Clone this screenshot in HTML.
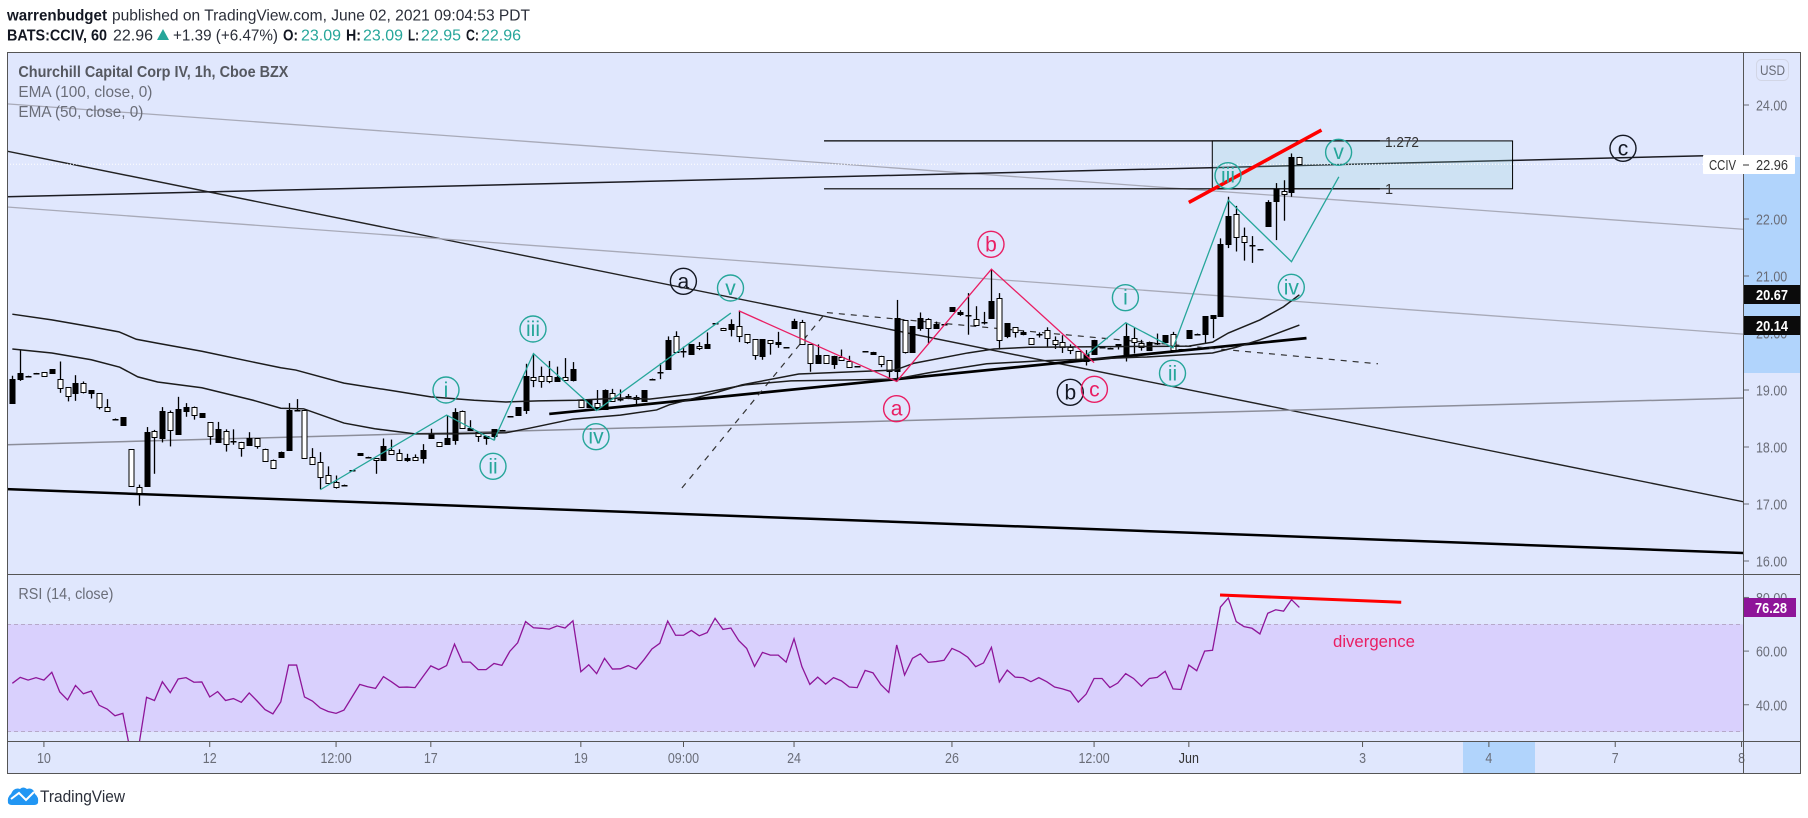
<!DOCTYPE html>
<html lang="en">
<head>
<meta charset="utf-8">
<title>CCIV chart</title>
<style>
html,body{margin:0;padding:0;background:#fff;width:1808px;height:818px;overflow:hidden}
svg{display:block}
text{font-family:"Liberation Sans",sans-serif}
</style>
</head>
<body>
<svg id="chart" width="1808" height="818" viewBox="0 0 1808 818" xmlns="http://www.w3.org/2000/svg">
  <defs>
    <clipPath id="main-clip"><rect x="7" y="52" width="1736" height="522"/></clipPath>
    <clipPath id="rsi-clip"><rect x="7" y="575" width="1736" height="166.5"/></clipPath>
  </defs>

  <g>
    <text x="7" y="20.5" font-size="16" font-weight="700" fill="#131722" textLength="100" lengthAdjust="spacingAndGlyphs">warrenbudget</text>
    <text x="112" y="20.5" font-size="16" fill="#2a2e39" textLength="418" lengthAdjust="spacingAndGlyphs">published on TradingView.com, June 02, 2021 09:04:53 PDT</text>
    <text x="7" y="40.5" font-size="16" font-weight="700" fill="#131722" textLength="100" lengthAdjust="spacingAndGlyphs">BATS:CCIV, 60</text>
    <text x="113" y="40.5" font-size="16" fill="#2a2e39" textLength="40" lengthAdjust="spacingAndGlyphs">22.96</text>
    <polygon points="157,40 163,29 169,40" fill="#26a69a"/>
    <text x="173" y="40.5" font-size="16" fill="#2a2e39" textLength="105" lengthAdjust="spacingAndGlyphs">+1.39 (+6.47%)</text>
    <text x="283" y="40.5" font-size="16" font-weight="700" fill="#131722" textLength="15" lengthAdjust="spacingAndGlyphs">O:</text>
    <text x="301" y="40.5" font-size="16" fill="#26a69a" textLength="40" lengthAdjust="spacingAndGlyphs">23.09</text>
    <text x="346" y="40.5" font-size="16" font-weight="700" fill="#131722" textLength="15" lengthAdjust="spacingAndGlyphs">H:</text>
    <text x="363" y="40.5" font-size="16" fill="#26a69a" textLength="40" lengthAdjust="spacingAndGlyphs">23.09</text>
    <text x="408" y="40.5" font-size="16" font-weight="700" fill="#131722" textLength="11" lengthAdjust="spacingAndGlyphs">L:</text>
    <text x="421" y="40.5" font-size="16" fill="#26a69a" textLength="40" lengthAdjust="spacingAndGlyphs">22.95</text>
    <text x="466" y="40.5" font-size="16" font-weight="700" fill="#131722" textLength="13" lengthAdjust="spacingAndGlyphs">C:</text>
    <text x="481" y="40.5" font-size="16" fill="#26a69a" textLength="40" lengthAdjust="spacingAndGlyphs">22.96</text>
  </g>

  <rect x="7" y="52" width="1793.5" height="722" fill="#e0e7fd"/>
  <rect x="1744" y="157" width="56.5" height="216" fill="#b1d4fc"/>
  <rect x="1463" y="742" width="72" height="32" fill="#b1d4fc"/>
  <rect x="7" y="624.3" width="1736" height="107.4" fill="#d9d0fd"/>
  <line x1="7" y1="624.5" x2="1743" y2="624.5" stroke="#b6a9c9" stroke-width="1" stroke-dasharray="4 3"/>
  <line x1="7" y1="731.5" x2="1743" y2="731.5" stroke="#b6a9c9" stroke-width="1" stroke-dasharray="4 3"/>

  <g id="main-pane" clip-path="url(#main-clip)"></g>
  <g id="rsi-pane" clip-path="url(#rsi-clip)"></g>

  <g font-size="21" text-anchor="middle" fill="none" stroke-width="1.4">
    <g><circle cx="446" cy="390" r="13" stroke="#26a69a"/><text x="446" y="397" fill="#26a69a">i</text></g>
    <g><circle cx="493" cy="466.3" r="13" stroke="#26a69a"/><text x="493" y="473.5" fill="#26a69a">ii</text></g>
    <g><circle cx="533" cy="329" r="13" stroke="#26a69a"/><text x="533" y="336" fill="#26a69a">iii</text></g>
    <g><circle cx="596" cy="436.7" r="13" stroke="#26a69a"/><text x="596" y="443.5" fill="#26a69a">iv</text></g>
    <g><circle cx="730.5" cy="288" r="13" stroke="#26a69a"/><text x="730.5" y="295" fill="#26a69a">v</text></g>
    <g><circle cx="683.4" cy="281.3" r="13" stroke="#131722"/><text x="683.4" y="288.5" fill="#131722">a</text></g>
    <g><circle cx="896.6" cy="408.7" r="13" stroke="#e91e63"/><text x="896.6" y="415.5" fill="#e91e63">a</text></g>
    <g><circle cx="991" cy="244.3" r="13" stroke="#e91e63"/><text x="991" y="251.5" fill="#e91e63">b</text></g>
    <g><circle cx="1070.3" cy="392.3" r="13" stroke="#131722"/><text x="1070.3" y="399.5" fill="#131722">b</text></g>
    <g><circle cx="1094.4" cy="389.3" r="13" stroke="#e91e63"/><text x="1094.4" y="396.5" fill="#e91e63">c</text></g>
    <g><circle cx="1125.4" cy="297.7" r="13" stroke="#26a69a"/><text x="1125.4" y="304.5" fill="#26a69a">i</text></g>
    <g><circle cx="1172.5" cy="373.3" r="13" stroke="#26a69a"/><text x="1172.5" y="380.5" fill="#26a69a">ii</text></g>
    <g><circle cx="1228" cy="175.7" r="13" stroke="#26a69a"/><text x="1228" y="182.5" fill="#26a69a">iii</text></g>
    <g><circle cx="1291.3" cy="287.3" r="13" stroke="#26a69a"/><text x="1291.3" y="294.5" fill="#26a69a">iv</text></g>
    <g><circle cx="1338.6" cy="152.3" r="13" stroke="#26a69a"/><text x="1338.6" y="159" fill="#26a69a">v</text></g>
    <g><circle cx="1623" cy="148.3" r="13" stroke="#131722"/><text x="1623" y="155.5" fill="#131722">c</text></g>
  </g>

  <text x="1385" y="147" font-size="14.5" fill="#333" textLength="34" lengthAdjust="spacingAndGlyphs">1.272</text>
  <text x="1385" y="194" font-size="14.5" fill="#333">1</text>
  <text x="18.4" y="77" font-size="16" font-weight="700" fill="#555860" textLength="270" lengthAdjust="spacingAndGlyphs">Churchill Capital Corp IV, 1h, Cboe BZX</text>
  <text x="18.4" y="97" font-size="16" fill="#6a6d78" textLength="134" lengthAdjust="spacingAndGlyphs">EMA (100, close, 0)</text>
  <text x="18.4" y="117" font-size="16" fill="#6a6d78" textLength="125" lengthAdjust="spacingAndGlyphs">EMA (50, close, 0)</text>
  <text x="18.4" y="599" font-size="16" fill="#6a6d78" textLength="95" lengthAdjust="spacingAndGlyphs">RSI (14, close)</text>
  <text x="1333" y="647" font-size="17" fill="#e91e63" textLength="82" lengthAdjust="spacingAndGlyphs">divergence</text>

  <g id="axes"></g>

  <line x1="7" y1="574.5" x2="1800" y2="574.5" stroke="#555" stroke-width="1"/>
  <line x1="7" y1="741.5" x2="1800" y2="741.5" stroke="#555" stroke-width="1"/>
  <line x1="1743.5" y1="52" x2="1743.5" y2="774" stroke="#555" stroke-width="1"/>
  <rect x="7.5" y="52.5" width="1793" height="721" fill="none" stroke="#555" stroke-width="1"/>

  <g>
    <rect x="1756.5" y="59.5" width="32" height="21" rx="5" fill="#e0e7fd" stroke="#d2d6e6"/>
    <text x="1772.5" y="75" font-size="14" fill="#6a6d78" text-anchor="middle" textLength="25" lengthAdjust="spacingAndGlyphs">USD</text>
  </g>

  <g>
    <rect x="1703" y="155" width="92" height="19" rx="1" fill="#fff"/>
    <text x="1709" y="170" font-size="14.5" fill="#333" textLength="27" lengthAdjust="spacingAndGlyphs">CCIV</text>
    <line x1="1743" y1="165" x2="1749" y2="165" stroke="#333"/>
    <text x="1756" y="170" font-size="14.5" fill="#333" textLength="32" lengthAdjust="spacingAndGlyphs">22.96</text>
  </g>
  <g>
    <rect x="1744" y="285" width="56" height="19" fill="#0b0b0b"/>
    <text x="1756" y="300" font-size="14.5" font-weight="700" fill="#fff" textLength="32" lengthAdjust="spacingAndGlyphs">20.67</text>
  </g>
  <g>
    <rect x="1744" y="316" width="56" height="19" fill="#0b0b0b"/>
    <text x="1756" y="331" font-size="14.5" font-weight="700" fill="#fff" textLength="32" lengthAdjust="spacingAndGlyphs">20.14</text>
  </g>
  <g>
    <rect x="1744" y="598" width="52" height="19" fill="#8e1599"/>
    <text x="1755" y="613" font-size="14.5" font-weight="700" fill="#fff" textLength="32" lengthAdjust="spacingAndGlyphs">76.28</text>
  </g>

  <g>
    <path d="M8 803 Q7 797 11 794 Q14 787 20 789 Q23 786 27 789 Q33 787 35 794 Q39 797 38 803 Q37 805 34 805 L12 805 Q9 805 8 803 Z" fill="#2196f3"/>
    <path d="M11 799 L19 793 L26 800 L34 792" fill="none" stroke="#fff" stroke-width="2"/>
    <text x="40" y="802" font-size="17" fill="#2a2e39" textLength="85" lengthAdjust="spacingAndGlyphs">TradingView</text>
  </g>
</svg>

<script>
const opens = [
18.78,19.20,19.24,19.29,19.31,19.29,19.20,19.05,18.94,19.12,
18.94,18.94,18.71,18.50,18.39,17.96,17.29,17.32,18.28,18.16,
18.61,18.23,18.63,18.71,18.53,18.43,18.09,18.28,18.08,18.08,
18.04,18.15,17.96,17.78,17.83,17.94,18.65,18.65,17.83,17.73,
17.51,17.39,17.34,17.58,17.86,17.83,17.80,17.78,17.94,17.89,
17.78,17.82,17.80,18.15,18.08,18.06,18.13,18.63,18.30,18.26,
18.15,18.19,18.29,18.53,18.57,18.65,19.22,19.24,19.24,19.16,
19.22,19.18,18.83,18.71,18.78,18.67,18.94,18.83,18.88,18.87,
18.80,19.19,19.30,19.37,19.94,19.66,19.64,19.78,19.74,20.15,
20.09,20.07,20.12,19.98,19.89,19.60,19.87,19.80,19.74,20.08,
20.19,19.80,19.47,19.61,19.46,19.58,19.51,19.40,19.67,19.64,
19.60,19.52,19.33,20.23,19.67,20.09,20.24,20.09,20.14,20.39,
20.34,20.30,20.24,20.19,20.27,20.61,19.94,20.10,19.99,19.91,
19.98,20.05,19.87,19.84,19.76,19.68,19.51,19.64,19.73,19.73,
19.77,19.64,19.92,19.82,19.71,19.81,19.84,19.99,19.71,19.92,
19.99,19.99,20.27,20.30,21.57,22.08,21.70,21.55,21.47,21.88,
22.32,22.49,22.48,23.09];
const highs = [
19.25,19.71,19.25,19.30,19.31,19.36,19.50,19.05,19.26,19.15,
19.00,18.94,18.84,18.50,18.52,17.96,17.34,18.35,18.30,18.70,
18.64,18.88,18.77,18.71,18.59,18.43,18.44,18.31,18.31,18.09,
18.26,18.15,17.97,17.78,17.92,18.77,18.84,18.65,17.98,17.91,
17.66,17.50,17.34,17.59,17.89,17.83,17.80,18.15,18.13,17.96,
17.88,17.87,18.05,18.32,18.08,18.56,18.68,18.64,18.47,18.26,
18.20,18.31,18.30,18.54,18.70,19.46,19.64,19.41,19.51,19.41,
19.56,19.49,18.83,18.84,19.00,19.01,19.02,19.01,18.93,18.91,
19.00,19.20,19.47,19.94,20.03,19.76,19.80,19.84,20.01,20.17,
20.09,20.24,20.38,19.98,19.89,19.89,19.87,20.02,19.75,20.25,
20.23,19.80,19.80,19.61,19.60,19.71,19.60,19.42,19.68,19.67,
19.60,19.52,20.58,20.23,20.12,20.36,20.26,20.20,20.15,20.45,
20.40,20.70,20.47,20.37,21.11,20.70,20.17,20.10,20.04,19.91,
20.01,20.10,19.94,19.96,19.80,19.68,19.70,19.88,19.75,19.74,
19.80,20.18,20.09,19.88,19.85,19.99,19.96,20.02,19.72,20.05,
19.99,20.29,20.31,21.66,22.39,22.23,21.85,21.70,21.47,22.33,
22.63,22.68,23.15,23.09];
const lows = [
18.77,19.16,19.24,19.29,19.24,19.29,18.95,18.80,18.81,18.94,
18.85,18.66,18.62,18.49,18.39,17.31,16.97,17.30,17.53,18.08,
18.01,18.22,18.53,18.48,18.53,18.04,18.09,17.92,18.04,17.83,
18.04,17.97,17.75,17.63,17.83,17.94,18.64,17.79,17.70,17.26,
17.36,17.27,17.33,17.58,17.86,17.80,17.53,17.76,17.86,17.77,
17.74,17.77,17.71,18.15,18.01,18.06,18.04,18.33,18.29,18.09,
18.04,18.12,18.29,18.53,18.57,18.58,19.05,19.04,19.12,19.15,
19.16,19.15,18.71,18.71,18.71,18.67,18.80,18.80,18.84,18.74,
18.80,19.19,19.19,19.36,19.67,19.57,19.63,19.70,19.74,20.15,
20.05,19.94,19.84,19.81,19.53,19.53,19.62,19.74,19.74,20.08,
19.80,19.32,19.46,19.47,19.37,19.51,19.40,19.40,19.67,19.64,
19.40,19.22,19.15,19.64,19.67,20.04,19.82,20.09,20.14,20.39,
20.30,19.97,20.14,20.15,20.27,19.71,19.91,19.92,19.96,19.81,
19.92,19.76,19.72,19.65,19.63,19.53,19.43,19.63,19.73,19.73,
19.71,19.50,19.64,19.69,19.71,19.79,19.84,19.66,19.71,19.92,
19.96,19.81,19.91,20.30,21.49,21.43,21.27,21.23,21.46,21.88,
21.63,21.97,22.39,22.95];
const closes = [
19.19,19.29,19.25,19.30,19.24,19.36,19.03,18.89,19.12,18.96,
19.00,18.71,18.64,18.49,18.52,17.31,17.19,18.26,18.17,18.64,
18.29,18.66,18.70,18.57,18.59,18.19,18.31,18.06,18.10,17.99,
18.16,18.01,17.75,17.63,17.92,18.65,18.64,17.81,17.70,17.47,
17.36,17.29,17.33,17.59,17.89,17.80,17.77,18.01,17.88,17.77,
17.80,17.77,17.94,18.22,18.01,18.15,18.61,18.33,18.33,18.20,
18.20,18.31,18.30,18.54,18.70,19.25,19.17,19.15,19.15,19.22,
19.18,19.36,18.71,18.84,18.71,19.00,18.81,18.85,18.89,18.84,
19.00,19.20,19.31,19.87,19.67,19.68,19.80,19.74,19.81,20.17,
20.05,20.15,19.94,19.85,19.61,19.89,19.82,19.84,19.75,20.21,
19.80,19.47,19.61,19.47,19.60,19.52,19.41,19.42,19.68,19.67,
19.45,19.33,20.27,19.67,20.12,20.27,20.08,20.16,20.15,20.45,
20.36,20.32,20.14,20.20,20.57,19.87,20.17,20.01,20.01,19.81,
19.99,19.91,19.80,19.76,19.71,19.53,19.63,19.88,19.75,19.74,
19.80,19.94,19.85,19.75,19.85,19.82,19.96,19.71,19.72,20.05,
19.96,20.29,20.31,21.57,22.06,21.68,21.59,21.52,21.46,22.29,
22.53,22.43,23.08,22.96];
const rsiValues = [
48.0,50.2,49.2,50.1,49.2,52.1,44.8,41.8,47.2,44.1,
45.1,39.8,38.4,35.9,36.8,21.9,24.4,42.8,41.6,48.6,
44.5,49.6,50.1,48.4,48.5,42.9,44.9,41.6,42.3,40.9,
44.4,41.4,38.2,36.6,41.1,54.8,54.8,42.9,41.4,38.8,
37.5,36.8,38.0,42.8,47.6,46.7,46.1,50.5,48.6,46.5,
46.6,46.4,50.5,54.5,53.1,54.6,62.6,55.9,55.9,53.1,
53.1,55.4,54.7,59.9,63.1,71.0,68.7,68.5,68.2,69.4,
68.6,71.3,52.3,54.9,51.6,57.3,53.3,53.4,54.6,53.3,
56.8,60.8,62.9,71.2,65.9,65.9,67.7,65.7,
66.9,72.2,68.1,68.6,63.9,61.0,54.3,59.5,58.5,58.5,
55.9,64.6,54.2,47.6,50.3,47.7,50.1,48.9,46.6,46.4,
52.8,51.9,47.5,44.6,62.3,51.1,57.3,59.0,55.8,56.1,
56.6,61.0,59.7,57.7,54.2,55.6,61.4,48.5,52.9,50.3,
50.1,48.6,50.1,48.6,46.6,45.9,45.0,41.0,44.0,49.8,
49.8,46.4,48.1,51.6,49.8,46.9,49.8,50.2,52.5,45.9,
45.7,54.8,52.7,60.0,60.3,76.4,79.8,71.0,69.1,68.5,
66.4,74.1,75.4,74.9,79.2,76.28];
const ema100Bars = [1,6,11,14.5,16.7,19.4,25,31.5,35,36.9,43,49.5,54,59.5,63.5,67.6,72.5,78,81.7,88.5,93.8,99.6,112.8,117,124.4,131.1,144.7,153,156,159,164];
const ema100Values = [20.33,20.23,20.11,20.02,19.89,19.82,19.68,19.49,19.39,19.35,19.12,18.98,18.88,18.82,18.79,18.81,18.82,18.86,18.84,18.95,19.09,19.16,19.19,19.30,19.46,19.51,19.58,19.65,19.75,19.88,20.14];
const ema50Bars = [1,6,11,14.6,16.9,19.4,25,31.5,35,37.9,43,46.9,52,57,63.5,66.5,72,78,82.6,84.2,90,93.4,100.6,112.8,115.2,122,125.3,129.8,150,153,155,159,162,164];
const ema50Values = [19.72,19.65,19.53,19.40,19.23,19.14,19.04,18.82,18.68,18.67,18.42,18.32,18.23,18.23,18.25,18.33,18.49,18.56,18.65,18.74,18.95,19.09,19.28,19.35,19.47,19.65,19.72,19.75,19.77,19.84,20.00,20.23,20.46,20.67];
const tealWave1Bars = [40,56,62,67,75,92];
const tealWave1Prices = [17.25,18.56,18.12,19.64,18.64,20.35];
const tealWave2Bars = [137,142,148,155,163,169];
const tealWave2Prices = [19.61,20.18,19.74,22.33,21.25,22.74];
const pinkWaveBars = [93,113,125,138];
const pinkWavePrices = [20.39,19.15,21.12,19.48];
const trendStartBars = [0.325,0.325,0.325,0.325,0.325,0.325,69];
const trendStartPrices = [24.02,23.19,22.39,22.21,18.04,17.26,18.58];
const trendEndBars = [220.2,220.2,215.4,220.2,220.2,220.2,164.9];
const trendEndPrices = [21.82,17.04,23.11,19.98,18.86,16.14,19.91];
const dashedBars = [85.8,104.05,173.95];
const dashedPrices = [17.28,20.36,19.46];
const fibPrices = [23.37,22.53];
const fibLineBars = [103.8,174.2];
const fibBoxBars = [152.97,191];
const redLineBars = [150,166.8];
const redLinePrices = [22.29,23.56];
const rsiRedBars = [153.95,176.9];
const rsiRedValues = [80.9,78.2];
const lastPrice = 22.96;
const priceTicks = [24,22,21,20,19,18,17,16];
const rsiTicks = [80,60,40];
const timeTickBars = [5,26,42,54,73,86,100,120,138,150,172,188,204,220];
const timeTickLabels = ["10","12","12:00","17","19","09:00","24","26","12:00","Jun","3","4","7","8"];

const NS = 'http://www.w3.org/2000/svg';
const xOf = bar => 12.33 + (bar - 1) * 7.896;
const yOf = price => 105 + (24 - price) * 57;
const yRsi = v => 651.1 + (60 - v) * 2.683;
const main = document.getElementById('main-pane');
const rsiPane = document.getElementById('rsi-pane');
const axes = document.getElementById('axes');

function mk(tag, parent, attrs) {
  const el = document.createElementNS(NS, tag);
  for (const k in attrs) el.setAttribute(k, attrs[k]);
  parent.appendChild(el);
  return el;
}
function pts(bars, vals, yf) {
  return bars.map((b, i) => xOf(b).toFixed(2) + ',' + yf(vals[i]).toFixed(2)).join(' ');
}
function squeeze(t) {
  const len = t.getComputedTextLength();
  t.setAttribute('textLength', (len * 0.86).toFixed(1));
  t.setAttribute('lengthAdjust', 'spacingAndGlyphs');
}

// background trend lines
const trendColors = ['#a8aab8','#222','#1c1c22','#a8aab8','#8c8e9a','#000','#000'];
const trendWidths = [1.3,1.4,1.5,1.3,1.5,2.5,2.7];
trendStartBars.forEach((b, i) => {
  const el = mk('line', main, {x1: xOf(b), y1: yOf(trendStartPrices[i]), x2: xOf(trendEndBars[i]), y2: yOf(trendEndPrices[i]), stroke: trendColors[i], 'stroke-width': trendWidths[i]});
  
  
});

// fib zone
const fibBox = mk('rect', main, {x: xOf(fibBoxBars[0]), y: yOf(fibPrices[0]), width: xOf(fibBoxBars[1]) - xOf(fibBoxBars[0]), height: yOf(fibPrices[1]) - yOf(fibPrices[0]), fill: '#8fd0d0', 'fill-opacity': '0.22', stroke: '#000', 'stroke-width': 1});


fibPrices.forEach(p => {
  const el = mk('line', main, {x1: xOf(fibLineBars[0]), y1: yOf(p), x2: xOf(fibLineBars[1]), y2: yOf(p), stroke: '#000', 'stroke-width': 1.2});
  
  
});

// dotted last price line
const lastLine = mk('line', main, {x1: 7, y1: yOf(lastPrice), x2: 1743, y2: yOf(lastPrice), stroke: '#fff', 'stroke-width': 1, 'stroke-dasharray': '1 2'});



// dashed pitch line
const dashed = mk('polyline', main, {points: pts(dashedBars, dashedPrices, yOf), fill: 'none', stroke: '#333', 'stroke-width': 1.2, 'stroke-dasharray': '6 6'});



// candles
opens.forEach((o, i) => {
  const c = closes[i];
  const cx = Math.round(xOf(i + 1));
  const g = mk('g', main, {});
  
  
  mk('line', g, {x1: cx + 0.5, y1: yOf(highs[i]), x2: cx + 0.5, y2: yOf(lows[i]), stroke: '#000', 'stroke-width': 1.3});
  const top = Math.round(yOf(Math.max(o, c)));
  const h = Math.max(1, Math.round(yOf(Math.min(o, c))) - top);
  const up = c >= o;
  if (h <= 1) {
    mk('rect', g, {x: cx - 2.5, y: top, width: 6, height: 1.5, fill: '#000'});
  } else {
    mk('rect', g, {x: cx - 2, y: top + 0.5, width: 5, height: h, fill: up ? '#000' : '#fff', stroke: '#000', 'stroke-width': 1});
  }
});

// EMA lines
const ema100Line = mk('polyline', main, {points: pts(ema100Bars, ema100Values, yOf), fill: 'none', stroke: '#1c1c1c', 'stroke-width': 1.5});


const ema50Line = mk('polyline', main, {points: pts(ema50Bars, ema50Values, yOf), fill: 'none', stroke: '#1c1c1c', 'stroke-width': 1.5});



// wave paths
const teal1 = mk('polyline', main, {points: pts(tealWave1Bars, tealWave1Prices, yOf), fill: 'none', stroke: '#26a69a', 'stroke-width': 1.3});


const teal2 = mk('polyline', main, {points: pts(tealWave2Bars, tealWave2Prices, yOf), fill: 'none', stroke: '#26a69a', 'stroke-width': 1.3});


const pink = mk('polyline', main, {points: pts(pinkWaveBars, pinkWavePrices, yOf), fill: 'none', stroke: '#e91e63', 'stroke-width': 1.3});



// red resistance
const redLine = mk('line', main, {x1: xOf(redLineBars[0]), y1: yOf(redLinePrices[0]), x2: xOf(redLineBars[1]), y2: yOf(redLinePrices[1]), stroke: '#ff0000', 'stroke-width': 3.5});



// RSI
const rsiBars = rsiValues.map((v, i) => i + 1);
const rsiLine = mk('polyline', rsiPane, {points: pts(rsiBars, rsiValues, yRsi), fill: 'none', stroke: '#8e1599', 'stroke-width': 1.3});


const rsiRed = mk('line', rsiPane, {x1: xOf(rsiRedBars[0]), y1: yRsi(rsiRedValues[0]), x2: xOf(rsiRedBars[1]), y2: yRsi(rsiRedValues[1]), stroke: '#ff0000', 'stroke-width': 3});



// axes
priceTicks.forEach(p => {
  const tick = mk('line', axes, {x1: 1744, y1: yOf(p), x2: 1749, y2: yOf(p), stroke: '#6a6d78'});
  
  
  const t = mk('text', axes, {x: 1756, y: yOf(p) + 5.5, 'font-size': 14.5, fill: '#6a6d78'});
  
  
  t.textContent = p.toFixed(2);
  squeeze(t);
});
rsiTicks.forEach(v => {
  const tick = mk('line', axes, {x1: 1744, y1: yRsi(v), x2: 1749, y2: yRsi(v), stroke: '#6a6d78'});
  
  
  const t = mk('text', axes, {x: 1756, y: yRsi(v) + 5.5, 'font-size': 14.5, fill: '#6a6d78'});
  
  
  t.textContent = v.toFixed(2);
  squeeze(t);
});
timeTickBars.forEach((b, i) => {
  const x = xOf(b);
  const tick = mk('line', axes, {x1: x, y1: 742, x2: x, y2: 747, stroke: '#555'});
  
  
  const isJun = timeTickLabels[i] === 'Jun';
  const t = mk('text', axes, {x: x, y: 763, 'font-size': 14.5, fill: isJun ? '#333' : '#6a6d78', 'text-anchor': 'middle'});
  
  
  t.textContent = timeTickLabels[i];
  squeeze(t);
});
</script>
</body>
</html>
